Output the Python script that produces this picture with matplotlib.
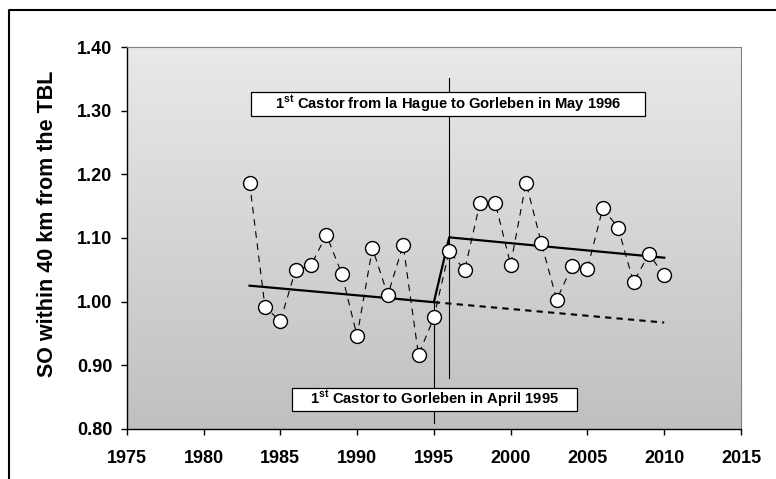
import numpy as np
import matplotlib
matplotlib.use("Agg")
import matplotlib.pyplot as plt
from matplotlib.colors import LinearSegmentedColormap
from matplotlib.lines import Line2D
from matplotlib.patches import Rectangle

plt.rcParams['font.family'] = ['Liberation Sans', 'DejaVu Sans']
plt.rcParams['font.weight'] = 'bold'
plt.rcParams['mathtext.fontset'] = 'custom'
plt.rcParams['mathtext.rm'] = 'Liberation Sans:bold'

# yearly sex odds (SO) within 40 km of the TBL
years = list(range(1983, 2011))
so_values = [1.187, 0.992, 0.969, 1.050, 1.057, 1.105, 1.044, 0.946, 1.084,
             1.010, 1.089, 0.916, 0.975, 1.080, 1.049, 1.155, 1.155, 1.058,
             1.187, 1.092, 1.003, 1.056, 1.052, 1.147, 1.116, 1.030, 1.075,
             1.041]

# fitted trend with level shift after 1995
trend_years = [1983, 1995, 1996, 2010]
trend_values = [1.025, 0.999, 1.101, 1.069]
# extrapolated pre-1995 trend
extrap_years = [1995, 2010]
extrap_values = [0.999, 0.967]

# Castor transports
event_years = [1995, 1996]
event_lines = [(0.809, 0.999), (0.879, 1.351)]
event_texts = [r"1$^{\mathregular{st}}$ Castor to Gorleben in April 1995",
               r"1$^{\mathregular{st}}$ Castor from la Hague to Gorleben in May 1996"]

xticks = list(range(1975, 2016, 5))
yticks = [0.80, 0.90, 1.00, 1.10, 1.20, 1.30, 1.40]

fig = plt.figure(figsize=(7.76, 4.79), dpi=100)
ax = fig.add_axes([0.1633, 0.105, 0.7916, 0.7963])

# grey gradient plot area
cmap = LinearSegmentedColormap.from_list("bg", ["#e9e9e9", "#c0c0c0"])
ax.imshow(np.linspace(0, 1, 256).reshape(-1, 1), cmap=cmap, aspect='auto',
          extent=[0, 1, 0, 1], transform=ax.transAxes, zorder=0)

ax.plot(years, so_values, color='black', lw=0.8, dashes=(6, 5), zorder=3,
        marker='o', markersize=10, markerfacecolor='white',
        markeredgecolor='black', markeredgewidth=1.0)
ax.plot(trend_years, trend_values, color='black', lw=1.6, zorder=2)
ax.plot(extrap_years, extrap_values, color='black', lw=1.5, dashes=(3, 2.5),
        zorder=2)

for yr, (y0, y1) in zip(event_years, event_lines):
    ax.plot([yr, yr], [y0, y1], color='black', lw=0.8, zorder=2)

# annotation boxes
boxes = [(1985.75, 0.8279, 18.6, 0.0366), (1983.1, 1.292, 25.62, 0.0377)]
for (bx, by, bw, bh), txt in zip(boxes, event_texts):
    ax.add_patch(Rectangle((bx, by), bw, bh, facecolor='white',
                           edgecolor='black', lw=0.9, zorder=5))
    ax.text(bx + bw / 2, by + bh / 2, txt, ha='center', va='center',
            fontsize=10.6, fontweight='bold', zorder=6)

ax.set_xlim(1975, 2015)
ax.set_ylim(0.80, 1.40)
ax.set_xticks(xticks)
ax.set_yticks(yticks)
ax.set_yticklabels(["%.2f" % v for v in yticks])
ax.tick_params(direction='out', length=4.3, width=1.0, labelsize=13)
ax.tick_params(axis='x', pad=11)
ax.tick_params(axis='y', pad=6)

for side in ['top', 'right']:
    ax.spines[side].set_color('#808080')
    ax.spines[side].set_linewidth(0.8)
for side in ['left', 'bottom']:
    ax.spines[side].set_linewidth(1.0)

ax.set_ylabel("SO within 40 km from the TBL", fontsize=15.5, fontweight='bold')
ax.yaxis.set_label_coords(-0.112, 0.537)

# outer frame (right and bottom edges lie outside the image)
fig.add_artist(Line2D([9.3 / 776, 9.3 / 776, 1.0], [0, 1 - 9.6 / 479, 1 - 9.6 / 479],
                      transform=fig.transFigure, color='black', lw=1.5))

fig.savefig("out.png", dpi=100)
